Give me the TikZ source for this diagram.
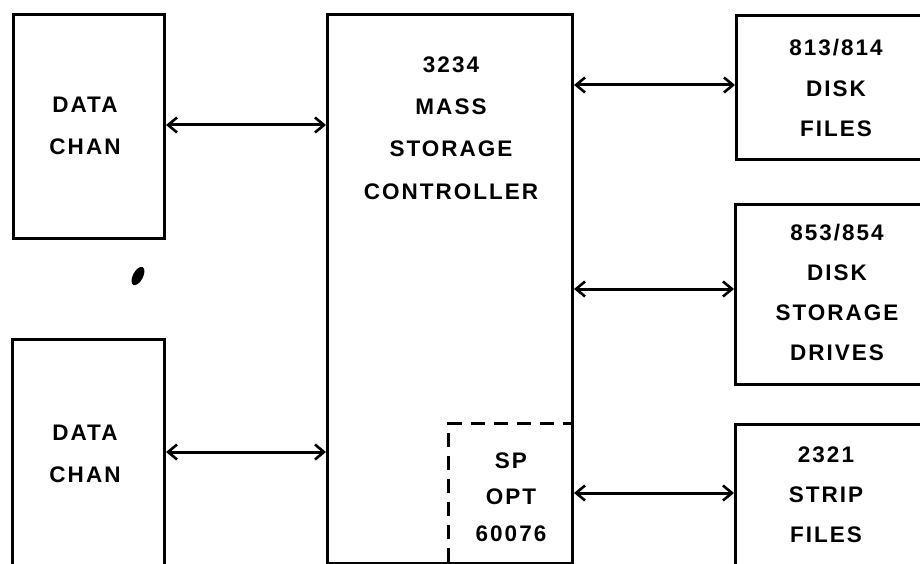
\documentclass[tikz,border=0pt]{standalone}
\usepackage{fontspec}
\setmainfont{Liberation Sans}
\newfontfamily\lettering[LetterSpace=9]{Liberation Sans}
\usetikzlibrary{arrows.meta}
\tikzset{
  box/.style={draw, line width=3pt, rectangle, inner sep=0pt, anchor=north west},
  lbl/.style={align=center, inner sep=0pt, font=\fontsize{22.5}{42}\lettering\bfseries},
  link/.style={line width=3pt, {Straight Barb[length=9pt,width=15pt,line width=2.6pt]}-{Straight Barb[length=9pt,width=15pt,line width=2.6pt]}},
  dashedge/.style={line width=3pt, dash pattern=on 14pt off 9pt}
}
\begin{document}
\begin{tikzpicture}[x=1pt,y=-1pt]
\useasboundingbox (0,0) rectangle (920,564);
\clip (0,0) rectangle (920,564);
% boxes
\node[box, minimum width=151pt, minimum height=224pt] (d1) at (12,13) {};
\node[box, minimum width=152pt, minimum height=260pt] (d2) at (11,338) {};
\node[box, minimum width=245pt, minimum height=549pt] (ctrl) at (326,13) {};
\node[box, minimum width=220pt, minimum height=144pt] (r1) at (735,14) {};
\node[box, minimum width=220pt, minimum height=180pt] (r2) at (734,203) {};
\node[box, minimum width=220pt, minimum height=180pt] (r3) at (734,423) {};
% special option (dashed)
\node[inner sep=0pt, minimum width=122pt, minimum height=138pt] (sp) at (510,493) {};
\draw[dashedge] (sp.south west) -- (sp.north west) -- (sp.north east);
% labels
\node[lbl] (t1) at (85,126) {DATA\\CHAN};
\node[lbl] (t2) at (85,454) {DATA\\CHAN};
\node[lbl, font=\fontsize{22.5}{42.3}\lettering\bfseries] (tc) at (451,128) {3234\\MASS\\STORAGE\\CONTROLLER};
\node[lbl, font=\fontsize{22.5}{36.5}\lettering\bfseries] (ts) at (511,497) {SP\\OPT\\60076};
\node[lbl, font=\fontsize{22.5}{40.5}\lettering\bfseries] (tr1) at (836,88) {813/814\\DISK\\FILES};
\node[lbl, font=\fontsize{22.5}{39.7}\lettering\bfseries] (tr2) at (837,292.5) {853/854\\DISK\\STORAGE\\DRIVES};
\node[lbl, font=\fontsize{22.5}{40}\lettering\bfseries] (tr3) at (826,495) {2321\\STRIP\\FILES};
% connector heights
\coordinate (y1) at (0,125);
\coordinate (y2) at (0,452);
\coordinate (y3) at (0,85);
\coordinate (y4) at (0,289);
\coordinate (y5) at (0,493);
% connectors
\draw[link] (d1.east |- y1) -- (ctrl.west |- y1);
\draw[link] (d2.east |- y2) -- (ctrl.west |- y2);
\draw[link] (ctrl.east |- y3) -- (r1.west |- y3);
\draw[link] (ctrl.east |- y4) -- (r2.west |- y4);
\draw[link] (ctrl.east |- y5) -- (r3.west |- y5);
% ink mark
\fill[rotate around={-28:(138,276)}] (138,276) ellipse (5pt and 10pt);
\end{tikzpicture}
\end{document}
